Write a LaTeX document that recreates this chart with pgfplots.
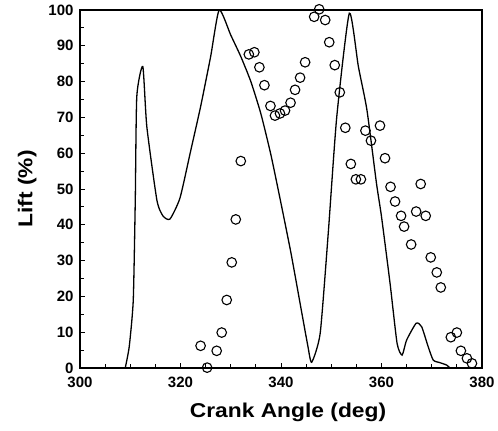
\documentclass[border=0pt]{standalone}
\usepackage{fontspec}
\setmainfont{Liberation Sans}
\newfontfamily\widefont[FakeStretch=1.14]{Liberation Sans}
\usepackage{pgfplots}
\pgfplotsset{compat=1.18}
\begin{document}
\begin{tikzpicture}
\useasboundingbox (0,0) rectangle (498pt,431pt);
\begin{axis}[
  at={(80pt,63pt)}, anchor=south west,
  scale only axis, width=402pt, height=358pt,
  xmin=300, xmax=380, ymin=0, ymax=100,
  xtick={300,320,...,380}, ytick={0,10,...,100},
  minor x tick num=3, minor y tick num=1,
  tick align=inside, xtick pos=left, ytick pos=left,
  major tick length=5pt, minor tick length=3.5pt,
  every tick/.style={line width=0.9pt,black},
  axis line style={line width=1.2pt},
  /pgf/number format/assume math mode=true,
  ticklabel style={font=\fontsize{15}{17}\selectfont\bfseries},
  xticklabel style={yshift=-5pt},
  yticklabel style={xshift=-3pt},
  xlabel={Crank Angle (deg)}, ylabel={Lift (\%)},
  label style={font=\widefont\fontsize{20}{22}\selectfont\bfseries},
  xlabel style={yshift=-9pt, xshift=7pt},
  ylabel style={yshift=5pt},
  clip=false,
]
\addplot[black, line width=1.3pt, smooth, tension=0.35] coordinates {
(309.0,0) (309.8,6) (310.6,19) (311.0,46.9) (311.3,75.8) (312.5,84.2)
(313.3,67.4) (315.3,46.9) (316.5,42.5) (317.9,41.6) (319.9,47.5)
(322,60.5) (324,73) (326,87) (327.7,100)
(330,93) (332,87) (334,80) (336,71) (338,59.5) (340,46) (342,32) (344,16.5)
(345.3,6.5) (346.1,1.6) (347.8,9.7) (349.4,37.6) (351.1,70.2) (353.6,99.1)
(355.4,84.2) (357.1,72.1) (359.0,51.6) (360.0,42.3) (361.7,23.7) (363.1,6.9)
(364.1,3.6) (365.0,7.8) (366.9,12.5) (368.0,11.5) (369.3,5.9) (370.3,2.2)
(371.6,1.5) (373.0,0.8) (373.6,0)
};
\addplot[only marks, mark=o, mark size=4.8pt, mark options={line width=1.1pt, black}] coordinates {
(324.0,6.2) (325.3,0.1) (327.2,4.8) (328.2,9.9) (329.2,19.0) (330.2,29.5)
(331.0,41.5) (332.0,57.8) (333.6,87.6) (334.7,88.2) (335.7,84.0) (336.7,79.0)
(337.9,73.2) (338.8,70.5) (339.8,71.1) (340.8,71.9) (341.9,74.1) (342.8,77.7)
(343.8,81.1) (344.8,85.4) (346.6,98.1) (347.6,100.2) (348.8,97.2) (349.6,91.0)
(350.7,84.6) (351.7,77.0) (352.8,67.1) (353.9,57.0) (354.9,52.7) (355.9,52.7)
(356.8,66.3) (357.9,63.5) (359.7,67.7) (360.7,58.6) (361.8,50.6) (362.7,46.5)
(363.9,42.5) (364.5,39.5) (365.9,34.5) (366.9,43.7) (367.8,51.4) (368.8,42.5)
(369.8,30.9) (371.0,26.7) (371.8,22.5) (373.8,8.6) (375.0,9.9) (375.8,4.8)
(377.0,2.7) (378.0,1.3)
};
\end{axis}
\end{tikzpicture}
\end{document}
